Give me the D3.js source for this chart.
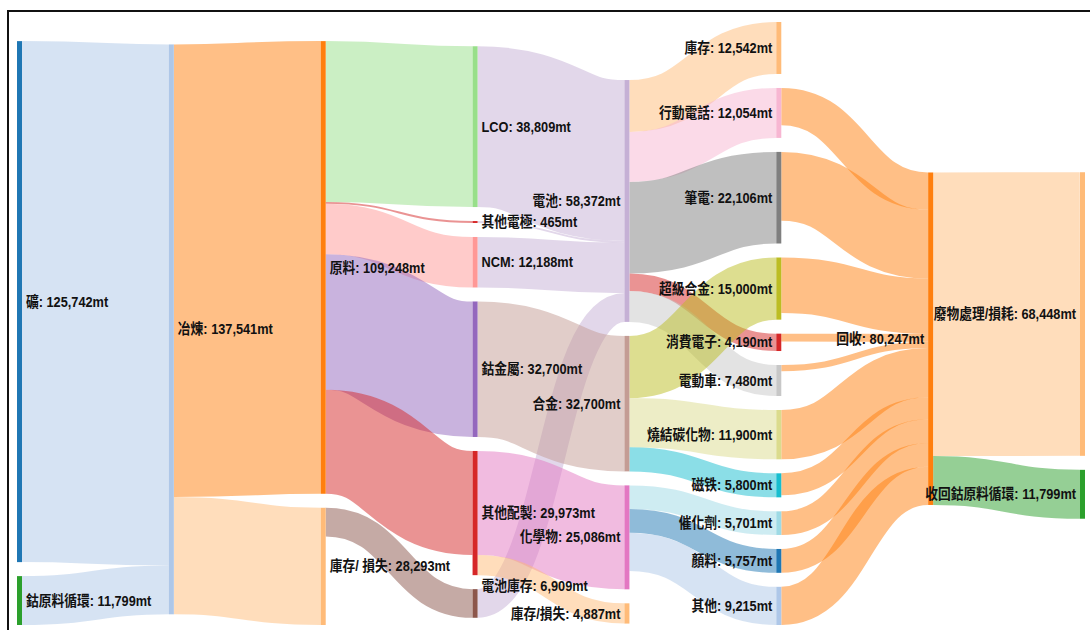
<!DOCTYPE html>
<html>
<head>
<meta charset="utf-8">
<script src="https://cdn.jsdelivr.net/npm/d3@7"></script>
<style>
  body { margin: 0; background: #fff; }
  .label { font-family: "Liberation Sans", Arial, "Noto Sans CJK TC", sans-serif; font-weight: bold; font-size: 14.5px; fill: #111; }
</style>
</head>
<body>
<script>
// nodes, listed column by column (top to bottom)
var nodeNames = ["礦", "鈷原料循環", "冶煉", "原料", "庫存/ 損失",
  "LCO", "其他電極", "NCM", "鈷金屬", "其他配製", "電池庫存",
  "電池", "合金", "化學物", "庫存/損失",
  "庫存", "行動電話", "筆電", "超級合金", "消費電子", "電動車",
  "燒結碳化物", "磁铁", "催化劑", "顏料", "其他",
  "回收", "廢物處理/損耗", "收回鈷原料循環"];

// flows (mt)
var linkSource = [
  "礦", "鈷原料循環",
  "冶煉", "冶煉",
  "原料", "原料", "原料", "原料", "原料", "庫存/ 損失",
  "LCO", "其他電極", "NCM", "電池庫存", "鈷金屬", "其他配製", "其他配製",
  "電池", "電池", "電池", "電池", "電池", "合金", "合金", "合金", "化學物", "化學物", "化學物",
  "行動電話", "筆電", "超級合金", "消費電子", "電動車", "燒結碳化物", "磁铁", "催化劑", "顏料", "其他",
  "回收", "回收"];
var linkTarget = [
  "冶煉", "冶煉",
  "原料", "庫存/ 損失",
  "LCO", "其他電極", "NCM", "鈷金屬", "其他配製", "電池庫存",
  "電池", "電池", "電池", "電池", "合金", "化學物", "庫存/損失",
  "庫存", "行動電話", "筆電", "消費電子", "電動車", "超級合金", "燒結碳化物", "磁铁", "催化劑", "顏料", "其他",
  "回收", "回收", "回收", "回收", "回收", "回收", "回收", "回收", "回收", "回收",
  "廢物處理/損耗", "收回鈷原料循環"];
var linkValue = [
  125742, 11799,
  109248, 28293,
  38809, 465, 12188, 32700, 25086, 6909,
  38809, 465, 12188, 6909, 32700, 25086, 4887,
  12542, 12054, 22106, 4190, 7480, 15000, 11900, 5800, 5701, 5757, 9215,
  9000, 16590, 13400, 1890, 1494, 11900, 5300, 5701, 5757, 9215,
  68448, 11799];

// node colours (category20)
var nodeColor = {
  "礦": "#1f77b4", "冶煉": "#aec7e8", "原料": "#ff7f0e", "庫存/ 損失": "#ffbb78",
  "鈷原料循環": "#2ca02c", "LCO": "#98df8a", "其他電極": "#d62728", "NCM": "#ff9896",
  "鈷金屬": "#9467bd", "電池": "#c5b0d5", "電池庫存": "#8c564b", "合金": "#c49c94",
  "化學物": "#e377c2", "行動電話": "#f7b6d2", "筆電": "#7f7f7f", "電動車": "#c7c7c7",
  "超級合金": "#bcbd22", "燒結碳化物": "#dbdb8d", "磁铁": "#17becf", "催化劑": "#9edae5",
  "顏料": "#1f77b4", "其他": "#aec7e8", "回收": "#ff7f0e", "廢物處理/損耗": "#ffbb78",
  "收回鈷原料循環": "#2ca02c", "其他配製": "#d62728", "消費電子": "#d62728",
  "庫存": "#ffbb78", "庫存/損失": "#ffbb78"
};

// labels nudged up so they don't collide with a neighbour
var labelShift = {"電池庫存": -18};

var width = 1090,
    height = 630,
    ext = {x0: 17, x1: 1085, y0: 22, y1: 625},
    nodeWidth = 5,
    nodePadding = 14,
    iterations = 32;

var format = d3.format(",.0f");

// build the graph
var nodes = nodeNames.map(function(name, i) {
  return {name: name, index: i, sourceLinks: [], targetLinks: []};
});
var byName = new Map(nodes.map(function(d) { return [d.name, d]; }));
var links = linkValue.map(function(v, i) {
  return {source: byName.get(linkSource[i]), target: byName.get(linkTarget[i]), value: v, index: i};
});
links.forEach(function(l) {
  l.source.sourceLinks.push(l);
  l.target.targetLinks.push(l);
});
nodes.forEach(function(d) {
  d.value = Math.max(d3.sum(d.sourceLinks, function(l) { return l.value; }),
                     d3.sum(d.targetLinks, function(l) { return l.value; }));
});

// columns by depth (left aligned)
var current = nodes, depth = 0;
while (current.length) {
  var next = [];
  current.forEach(function(d) {
    d.depth = depth;
    d.sourceLinks.forEach(function(l) {
      if (next.indexOf(l.target) < 0) next.push(l.target);
    });
  });
  current = next;
  depth++;
}

var x = d3.scaleLinear().domain([0, depth - 1]).range([ext.x0, ext.x1 - nodeWidth]);
nodes.forEach(function(d) { d.x0 = x(d.depth); d.x1 = d.x0 + nodeWidth; });

var columns = d3.range(depth).map(function(k) {
  return nodes.filter(function(d) { return d.depth === k; });
});

var ky = d3.min(columns, function(c) {
  return (ext.y1 - ext.y0 - (c.length - 1) * nodePadding) / d3.sum(c, function(d) { return d.value; });
});
var h = d3.scaleLinear().domain([0, 1]).range([0, ky]);

columns.forEach(function(c) {
  c.forEach(function(d, i) { d.y0 = i; d.y1 = i + h(d.value); });
});
links.forEach(function(l) { l.width = h(l.value); });

// offsets of each link inside its two nodes
function linkOffsets() {
  nodes.forEach(function(d) {
    d.sourceLinks.sort(function(a, b) { return (a.target.y0 - b.target.y0) || (a.index - b.index); });
    d.targetLinks.sort(function(a, b) { return (a.source.y0 - b.source.y0) || (a.index - b.index); });
    var sy = 0, ty = 0;
    d.sourceLinks.forEach(function(l) { l.sy = sy; sy += l.width; });
    d.targetLinks.forEach(function(l) { l.ty = ty; ty += l.width; });
  });
}

function shift(d, dy) { d.y0 += dy; d.y1 += dy; }

// move a node so its incoming links run level
function relaxLeftToRight(alpha) {
  columns.forEach(function(c) {
    c.forEach(function(d) {
      if (!d.targetLinks.length) return;
      var y = d3.sum(d.targetLinks, function(l) { return (l.source.y0 + l.sy - l.ty) * l.value; }) /
              d3.sum(d.targetLinks, function(l) { return l.value; });
      shift(d, (y - d.y0) * alpha);
    });
  });
}

// move a node so its outgoing links run level
function relaxRightToLeft(alpha) {
  columns.slice().reverse().forEach(function(c) {
    c.forEach(function(d) {
      if (!d.sourceLinks.length) return;
      var y = d3.sum(d.sourceLinks, function(l) { return (l.target.y0 + l.ty - l.sy) * l.value; }) /
              d3.sum(d.sourceLinks, function(l) { return l.value; });
      shift(d, (y - d.y0) * alpha);
    });
  });
}

// nodes keep the order they are listed in
function resolveCollisions() {
  columns.forEach(function(c) {
    var y = ext.y0, d, dy, i;
    for (i = 0; i < c.length; i++) {
      d = c[i];
      dy = y - d.y0;
      if (dy > 0) shift(d, dy);
      y = d.y1 + nodePadding;
    }
    dy = y - nodePadding - ext.y1;
    if (dy > 0) {
      shift(d, -dy);
      y = d.y0;
      for (i = c.length - 2; i >= 0; i--) {
        d = c[i];
        dy = d.y1 + nodePadding - y;
        if (dy > 0) shift(d, -dy);
        y = d.y0;
      }
    }
  });
  linkOffsets();
}

resolveCollisions();
for (var alpha = 1, n = iterations; n > 0; --n) {
  relaxRightToLeft(alpha *= 0.99);
  resolveCollisions();
  relaxLeftToRight(alpha);
  resolveCollisions();
}

links.forEach(function(l) {
  l.y0 = l.source.y0 + l.sy + l.width / 2;
  l.y1 = l.target.y0 + l.ty + l.width / 2;
});

// draw
var svg = d3.select("body").append("svg")
    .attr("width", width)
    .attr("height", height);

// frame
svg.append("rect")
    .attr("x", 8).attr("y", 11)
    .attr("width", width + 20).attr("height", height + 20)
    .attr("fill", "none")
    .attr("stroke", "#111")
    .attr("stroke-width", 2);

var linkPath = d3.linkHorizontal()
    .source(function(d) { return [d.source.x1, d.y0]; })
    .target(function(d) { return [d.target.x0, d.y1]; });

svg.append("g")
    .attr("fill", "none")
  .selectAll("path")
  .data(links)
  .enter().append("path")
    .attr("d", linkPath)
    .attr("stroke", function(d) { return nodeColor[d.target.name]; })
    .attr("stroke-opacity", 0.5)
    .attr("stroke-width", function(d) { return Math.max(1, d.width); });

svg.append("g")
  .selectAll("rect")
  .data(nodes)
  .enter().append("rect")
    .attr("x", function(d) { return d.x0; })
    .attr("y", function(d) { return d.y0; })
    .attr("width", function(d) { return d.x1 - d.x0; })
    .attr("height", function(d) { return Math.max(1, d.y1 - d.y0); })
    .attr("fill", function(d) { return nodeColor[d.name]; });

svg.append("g")
  .selectAll("text")
  .data(nodes)
  .enter().append("text")
    .attr("class", "label")
    .attr("transform", function(d) {
      var tx = d.x0 < width / 2 ? d.x1 + 4 : d.x0 - 4,
          ty = (d.y0 + d.y1) / 2 + (labelShift[d.name] || 0);
      return "translate(" + tx + "," + ty + ") scale(0.88,1)";
    })
    .attr("dy", "0.35em")
    .attr("text-anchor", function(d) { return d.x0 < width / 2 ? "start" : "end"; })
    .text(function(d) { return d.name + ": " + format(d.value) + "mt"; });
</script>
</body>
</html>
